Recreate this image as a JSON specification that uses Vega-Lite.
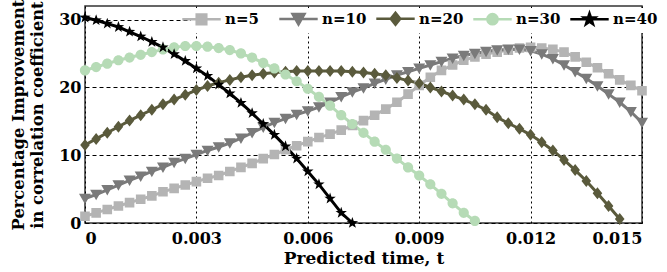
{
  "$schema": "https://vega.github.io/schema/vega-lite/v6.json",
  "width": 557,
  "height": 217,
  "autosize": "none",
  "padding": {"left": 85, "top": 6, "right": 25, "bottom": 49},
  "background": "white",
  "config": {
    "view": {"stroke": "#333333", "strokeWidth": 1.5},
    "font": "DejaVu Serif",
    "axis": {
      "labelFont": "DejaVu Serif", "labelFontWeight": "bold", "labelFontSize": 16, "labelColor": "black",
      "titleFont": "DejaVu Serif", "titleFontWeight": "bold", "titleColor": "black",
      "domain": false, "ticks": false, "gridColor": "black", "gridOpacity": 1, "gridWidth": 1
    }
  },
  "data": {"values": [
    {"s":"n=5","t":0,"v":1.0},{"s":"n=5","t":0.0003,"v":1.5},{"s":"n=5","t":0.0006,"v":2.0},{"s":"n=5","t":0.0009,"v":2.5},{"s":"n=5","t":0.0012,"v":3.0},{"s":"n=5","t":0.0015,"v":3.5},{"s":"n=5","t":0.0018,"v":4.0},{"s":"n=5","t":0.0021,"v":4.6},{"s":"n=5","t":0.0024,"v":5.1},{"s":"n=5","t":0.0027,"v":5.6},{"s":"n=5","t":0.003,"v":6.1},{"s":"n=5","t":0.0033,"v":6.6},{"s":"n=5","t":0.0036,"v":7.0},{"s":"n=5","t":0.0039,"v":7.6},{"s":"n=5","t":0.0042,"v":8.2},{"s":"n=5","t":0.0045,"v":8.8},{"s":"n=5","t":0.0048,"v":9.5},{"s":"n=5","t":0.0051,"v":10.1},{"s":"n=5","t":0.0054,"v":10.8},{"s":"n=5","t":0.0057,"v":11.4},{"s":"n=5","t":0.006,"v":12.0},{"s":"n=5","t":0.0063,"v":12.6},{"s":"n=5","t":0.0066,"v":13.1},{"s":"n=5","t":0.0069,"v":13.7},{"s":"n=5","t":0.0072,"v":14.4},{"s":"n=5","t":0.0075,"v":15.1},{"s":"n=5","t":0.0078,"v":15.9},{"s":"n=5","t":0.0081,"v":16.8},{"s":"n=5","t":0.0084,"v":17.8},{"s":"n=5","t":0.0087,"v":19.0},{"s":"n=5","t":0.009,"v":20.3},{"s":"n=5","t":0.0093,"v":21.5},{"s":"n=5","t":0.0096,"v":22.5},{"s":"n=5","t":0.0099,"v":23.3},{"s":"n=5","t":0.0102,"v":24.0},{"s":"n=5","t":0.0105,"v":24.5},{"s":"n=5","t":0.0108,"v":24.9},{"s":"n=5","t":0.0111,"v":25.2},{"s":"n=5","t":0.0114,"v":25.5},{"s":"n=5","t":0.0117,"v":25.8},{"s":"n=5","t":0.012,"v":25.9},{"s":"n=5","t":0.0123,"v":25.8},{"s":"n=5","t":0.0126,"v":25.6},{"s":"n=5","t":0.0129,"v":25.2},{"s":"n=5","t":0.0132,"v":24.5},{"s":"n=5","t":0.0135,"v":23.7},{"s":"n=5","t":0.0138,"v":22.9},{"s":"n=5","t":0.0141,"v":22.0},{"s":"n=5","t":0.0144,"v":21.1},{"s":"n=5","t":0.0147,"v":20.3},{"s":"n=5","t":0.015,"v":19.5},
    {"s":"n=10","t":0,"v":3.6},{"s":"n=10","t":0.0003,"v":4.2},{"s":"n=10","t":0.0006,"v":4.9},{"s":"n=10","t":0.0009,"v":5.6},{"s":"n=10","t":0.0012,"v":6.3},{"s":"n=10","t":0.0015,"v":6.9},{"s":"n=10","t":0.0018,"v":7.6},{"s":"n=10","t":0.0021,"v":8.2},{"s":"n=10","t":0.0024,"v":8.9},{"s":"n=10","t":0.0027,"v":9.5},{"s":"n=10","t":0.003,"v":10.1},{"s":"n=10","t":0.0033,"v":10.7},{"s":"n=10","t":0.0036,"v":11.2},{"s":"n=10","t":0.0039,"v":11.8},{"s":"n=10","t":0.0042,"v":12.5},{"s":"n=10","t":0.0045,"v":13.3},{"s":"n=10","t":0.0048,"v":14.1},{"s":"n=10","t":0.0051,"v":14.8},{"s":"n=10","t":0.0054,"v":15.4},{"s":"n=10","t":0.0057,"v":16.0},{"s":"n=10","t":0.006,"v":16.5},{"s":"n=10","t":0.0063,"v":17.1},{"s":"n=10","t":0.0066,"v":17.8},{"s":"n=10","t":0.0069,"v":18.6},{"s":"n=10","t":0.0072,"v":19.3},{"s":"n=10","t":0.0075,"v":19.9},{"s":"n=10","t":0.0078,"v":20.6},{"s":"n=10","t":0.0081,"v":21.2},{"s":"n=10","t":0.0084,"v":21.8},{"s":"n=10","t":0.0087,"v":22.3},{"s":"n=10","t":0.009,"v":22.8},{"s":"n=10","t":0.0093,"v":23.3},{"s":"n=10","t":0.0096,"v":23.8},{"s":"n=10","t":0.0099,"v":24.3},{"s":"n=10","t":0.0102,"v":24.7},{"s":"n=10","t":0.0105,"v":25.0},{"s":"n=10","t":0.0108,"v":25.3},{"s":"n=10","t":0.0111,"v":25.5},{"s":"n=10","t":0.0114,"v":25.6},{"s":"n=10","t":0.0117,"v":25.6},{"s":"n=10","t":0.012,"v":25.4},{"s":"n=10","t":0.0123,"v":24.9},{"s":"n=10","t":0.0126,"v":24.2},{"s":"n=10","t":0.0129,"v":23.3},{"s":"n=10","t":0.0132,"v":22.3},{"s":"n=10","t":0.0135,"v":21.3},{"s":"n=10","t":0.0138,"v":20.2},{"s":"n=10","t":0.0141,"v":19.0},{"s":"n=10","t":0.0144,"v":17.8},{"s":"n=10","t":0.0147,"v":16.4},{"s":"n=10","t":0.015,"v":14.8},
    {"s":"n=20","t":0,"v":11.5},{"s":"n=20","t":0.0003,"v":12.4},{"s":"n=20","t":0.0006,"v":13.3},{"s":"n=20","t":0.0009,"v":14.2},{"s":"n=20","t":0.0012,"v":15.1},{"s":"n=20","t":0.0015,"v":15.9},{"s":"n=20","t":0.0018,"v":16.7},{"s":"n=20","t":0.0021,"v":17.5},{"s":"n=20","t":0.0024,"v":18.2},{"s":"n=20","t":0.0027,"v":18.9},{"s":"n=20","t":0.003,"v":19.6},{"s":"n=20","t":0.0033,"v":20.2},{"s":"n=20","t":0.0036,"v":20.7},{"s":"n=20","t":0.0039,"v":21.1},{"s":"n=20","t":0.0042,"v":21.5},{"s":"n=20","t":0.0045,"v":21.8},{"s":"n=20","t":0.0048,"v":22.0},{"s":"n=20","t":0.0051,"v":22.2},{"s":"n=20","t":0.0054,"v":22.3},{"s":"n=20","t":0.0057,"v":22.4},{"s":"n=20","t":0.006,"v":22.4},{"s":"n=20","t":0.0063,"v":22.4},{"s":"n=20","t":0.0066,"v":22.4},{"s":"n=20","t":0.0069,"v":22.4},{"s":"n=20","t":0.0072,"v":22.3},{"s":"n=20","t":0.0075,"v":22.2},{"s":"n=20","t":0.0078,"v":22.0},{"s":"n=20","t":0.0081,"v":21.8},{"s":"n=20","t":0.0084,"v":21.4},{"s":"n=20","t":0.0087,"v":21.0},{"s":"n=20","t":0.009,"v":20.6},{"s":"n=20","t":0.0093,"v":20.0},{"s":"n=20","t":0.0096,"v":19.4},{"s":"n=20","t":0.0099,"v":18.8},{"s":"n=20","t":0.0102,"v":18.2},{"s":"n=20","t":0.0105,"v":17.5},{"s":"n=20","t":0.0108,"v":16.7},{"s":"n=20","t":0.0111,"v":15.6},{"s":"n=20","t":0.0114,"v":14.7},{"s":"n=20","t":0.0117,"v":13.9},{"s":"n=20","t":0.012,"v":13.0},{"s":"n=20","t":0.0123,"v":11.9},{"s":"n=20","t":0.0126,"v":10.7},{"s":"n=20","t":0.0129,"v":9.3},{"s":"n=20","t":0.0132,"v":7.8},{"s":"n=20","t":0.0135,"v":6.2},{"s":"n=20","t":0.0138,"v":4.4},{"s":"n=20","t":0.0141,"v":2.5},{"s":"n=20","t":0.0144,"v":0.6},
    {"s":"n=30","t":0,"v":22.5},{"s":"n=30","t":0.0003,"v":23.0},{"s":"n=30","t":0.0006,"v":23.5},{"s":"n=30","t":0.0009,"v":24.0},{"s":"n=30","t":0.0012,"v":24.4},{"s":"n=30","t":0.0015,"v":24.8},{"s":"n=30","t":0.0018,"v":25.2},{"s":"n=30","t":0.0021,"v":25.6},{"s":"n=30","t":0.0024,"v":25.9},{"s":"n=30","t":0.0027,"v":26.1},{"s":"n=30","t":0.003,"v":26.1},{"s":"n=30","t":0.0033,"v":26.0},{"s":"n=30","t":0.0036,"v":25.8},{"s":"n=30","t":0.0039,"v":25.5},{"s":"n=30","t":0.0042,"v":25.0},{"s":"n=30","t":0.0045,"v":24.4},{"s":"n=30","t":0.0048,"v":23.6},{"s":"n=30","t":0.0051,"v":22.8},{"s":"n=30","t":0.0054,"v":21.9},{"s":"n=30","t":0.0057,"v":20.9},{"s":"n=30","t":0.006,"v":19.8},{"s":"n=30","t":0.0063,"v":18.6},{"s":"n=30","t":0.0066,"v":17.3},{"s":"n=30","t":0.0069,"v":15.9},{"s":"n=30","t":0.0072,"v":14.6},{"s":"n=30","t":0.0075,"v":13.3},{"s":"n=30","t":0.0078,"v":12.0},{"s":"n=30","t":0.0081,"v":10.8},{"s":"n=30","t":0.0084,"v":9.5},{"s":"n=30","t":0.0087,"v":8.2},{"s":"n=30","t":0.009,"v":7.0},{"s":"n=30","t":0.0093,"v":5.7},{"s":"n=30","t":0.0096,"v":4.3},{"s":"n=30","t":0.0099,"v":2.9},{"s":"n=30","t":0.0102,"v":1.5},{"s":"n=30","t":0.0105,"v":0.3},
    {"s":"n=40","t":0,"v":30.3},{"s":"n=40","t":0.0003,"v":29.9},{"s":"n=40","t":0.0006,"v":29.4},{"s":"n=40","t":0.0009,"v":28.9},{"s":"n=40","t":0.0012,"v":28.2},{"s":"n=40","t":0.0015,"v":27.5},{"s":"n=40","t":0.0018,"v":26.7},{"s":"n=40","t":0.0021,"v":25.9},{"s":"n=40","t":0.0024,"v":24.9},{"s":"n=40","t":0.0027,"v":23.9},{"s":"n=40","t":0.003,"v":22.8},{"s":"n=40","t":0.0033,"v":21.7},{"s":"n=40","t":0.0036,"v":20.4},{"s":"n=40","t":0.0039,"v":19.1},{"s":"n=40","t":0.0042,"v":17.7},{"s":"n=40","t":0.0045,"v":16.2},{"s":"n=40","t":0.0048,"v":14.6},{"s":"n=40","t":0.0051,"v":13.0},{"s":"n=40","t":0.0054,"v":11.3},{"s":"n=40","t":0.0057,"v":9.5},{"s":"n=40","t":0.006,"v":7.6},{"s":"n=40","t":0.0063,"v":5.7},{"s":"n=40","t":0.0066,"v":3.6},{"s":"n=40","t":0.0069,"v":1.5},{"s":"n=40","t":0.0072,"v":0.0}
  ]},
  "encoding": {
    "x": {
      "field": "t", "type": "quantitative",
      "scale": {"domain": [0, 0.015], "nice": false, "zero": false},
      "axis": {
        "values": [0, 0.003, 0.006, 0.009, 0.012, 0.015],
        "labelExpr": "datum.value == 0 ? '0' : format(datum.value, '.3f')",
        "labelPadding": 7,
        "gridDash": [2, 3],
        "title": "Predicted time, t", "titleFontSize": 17, "titlePadding": 4
      }
    },
    "y": {
      "field": "v", "type": "quantitative",
      "scale": {"domain": [0, 32], "nice": false},
      "axis": {
        "values": [0, 10, 20, 30],
        "labelPadding": 4,
        "gridDash": [4, 3],
        "title": ["Percentage Improvement", "in correlation coefficient"],
        "titleFontSize": 16.3, "titleLineHeight": 19, "titlePadding": 13
      }
    },
    "color": {
      "field": "s", "type": "nominal",
      "scale": {"domain": ["n=5", "n=10", "n=20", "n=30", "n=40"], "range": ["#b4b4b4", "#7a7a7a", "#5a5a3c", "#b6dbb6", "#000000"]},
      "legend": {
        "title": null, "orient": "none", "direction": "horizontal", "legendX": 106, "legendY": 2,
        "fillColor": "white", "padding": 3,
        "symbolSize": 144, "symbolStrokeWidth": 2.5, "labelOffset": 16, "columnPadding": 4, "gridAlign": "all",
        "labelFont": "DejaVu Serif", "labelFontWeight": "bold", "labelFontSize": 15, "labelColor": "black"
      }
    }
  },
  "layer": [
    {
      "mark": {"type": "line", "strokeWidth": 3}
    },
    {
      "mark": {"type": "point", "filled": true, "opacity": 1, "size": 144},
      "encoding": {
        "shape": {
          "field": "s", "type": "nominal", "legend": null,
          "scale": {"domain": ["n=5", "n=10", "n=20", "n=30", "n=40"], "range": [
            "M-3.2,0H3.2M-0.8,-0.8H0.8V0.8H-0.8Z",
            "M-3.2,0H3.2M-1,-0.8H1L0,0.95Z",
            "M-3.2,0H3.2M0,-1L0.8,0L0,1L-0.8,0Z",
            "M-3.2,0H3.2M-0.85,0A0.85,0.85 0 1,0 0.85,0A0.85,0.85 0 1,0 -0.85,0Z",
            "M-3.2,0H3.2M0,-1L0.235,-0.324L0.951,-0.309L0.38,0.124L0.588,0.809L0,0.4L-0.588,0.809L-0.38,0.124L-0.951,-0.309L-0.235,-0.324Z"
          ]}
        }
      }
    }
  ]
}
